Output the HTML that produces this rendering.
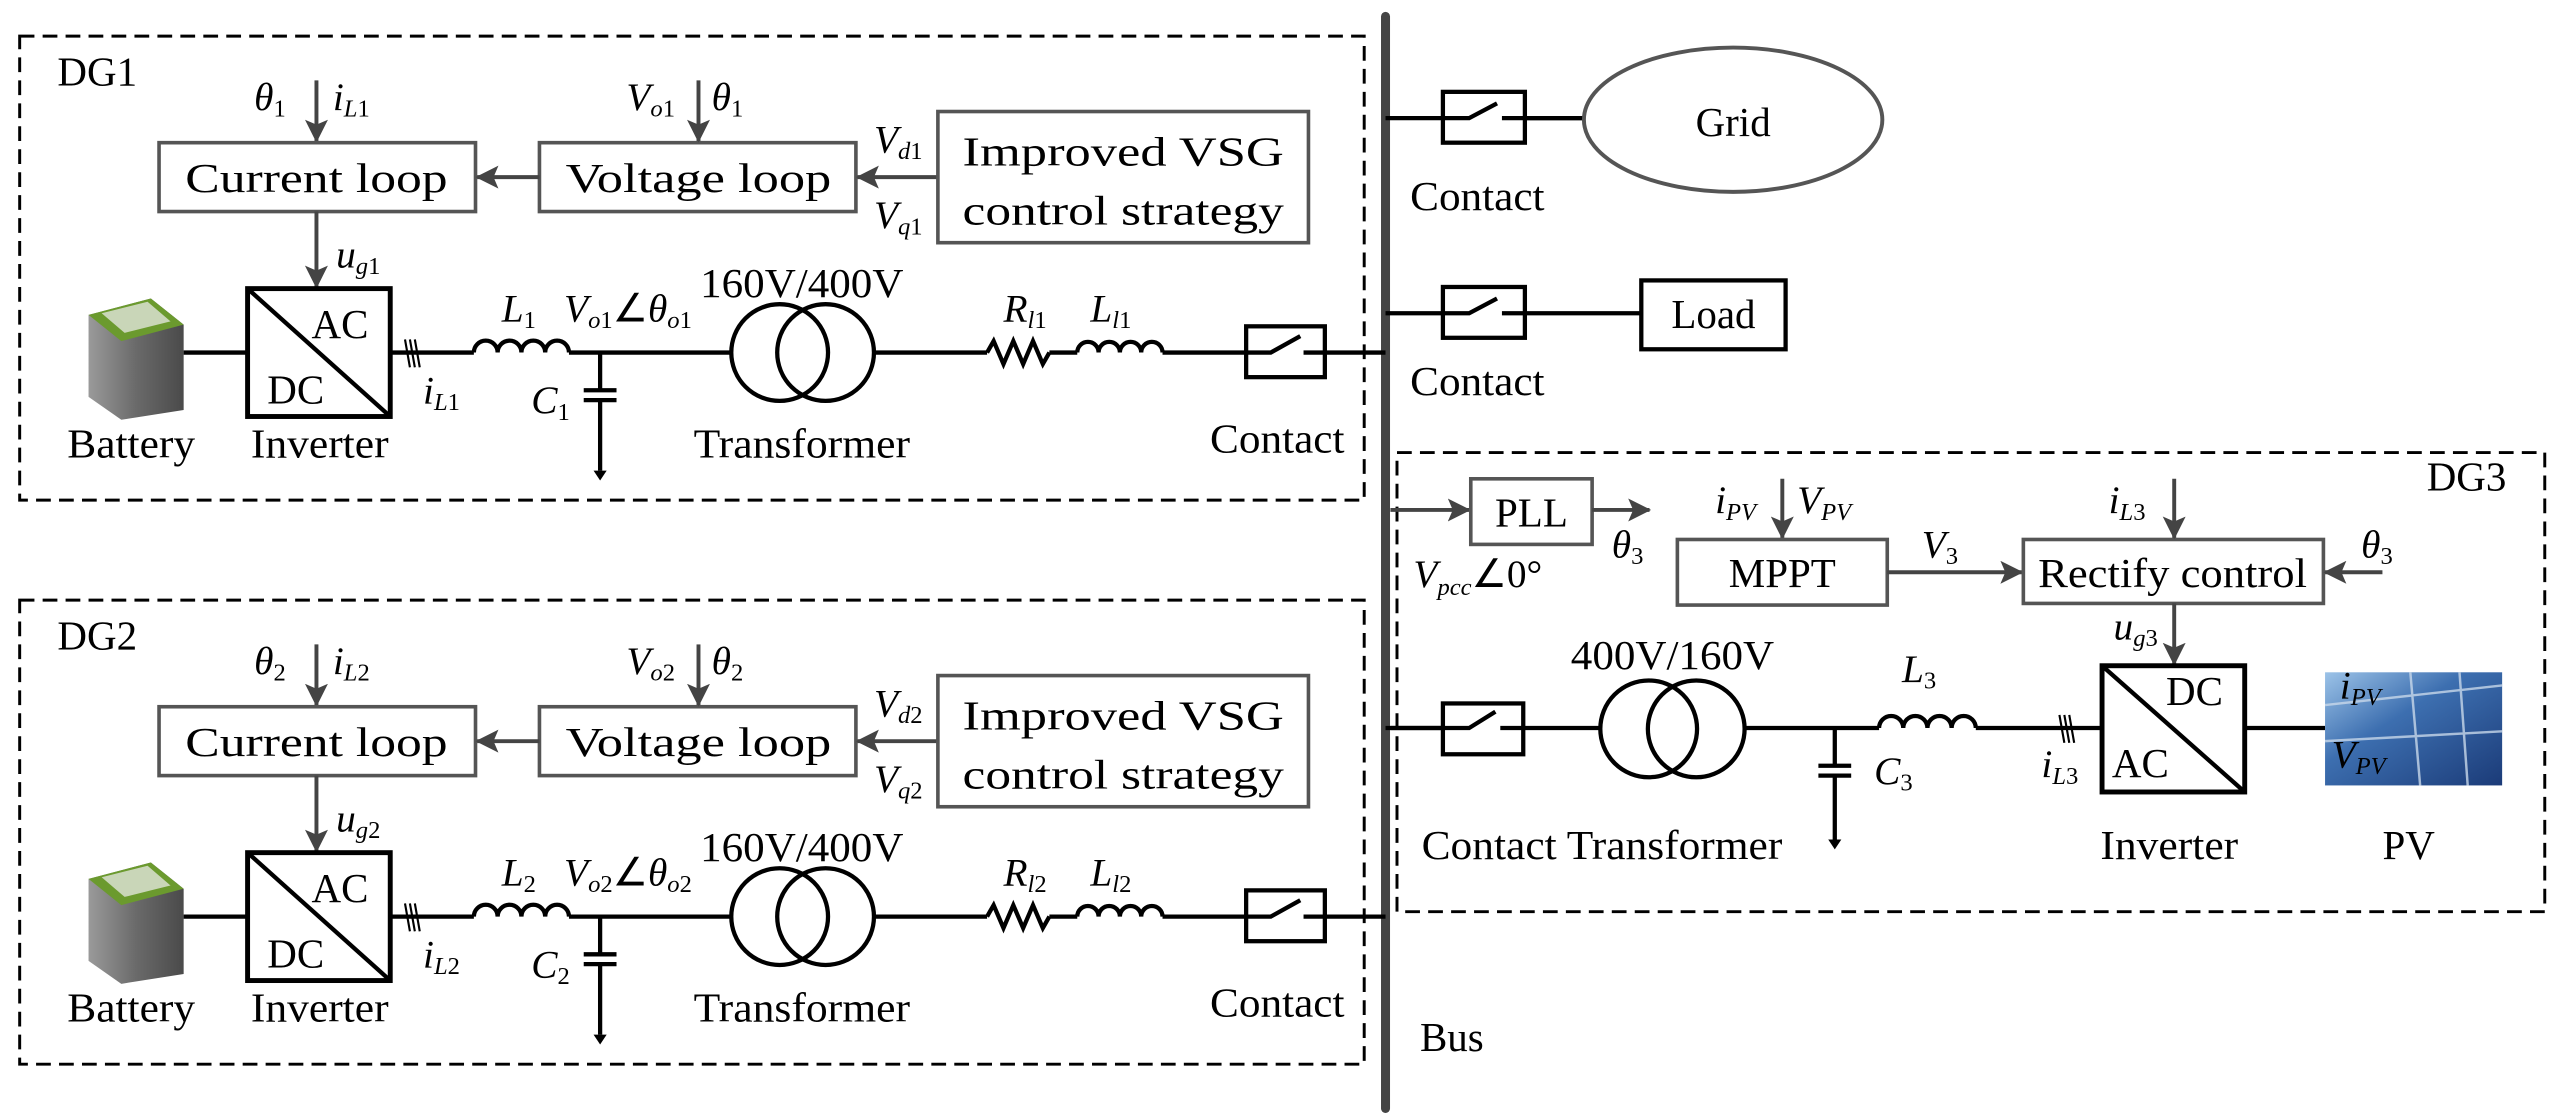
<!DOCTYPE html>
<html><head><meta charset="utf-8"><style>
html,body{margin:0;padding:0;background:#fff;}
svg{display:block;}
text{font-family:"Liberation Serif",serif;fill:#000;}
.t{font-size:25px;}
.m{font-size:24px;font-style:italic;}
.s{font-size:15px;}
.blk{fill:none;stroke:#555;stroke-width:2.2;}
.w{fill:none;stroke:#000;stroke-width:2.6;}
.a{stroke:#444;stroke-width:2.4;fill:none;}
.dash{fill:none;stroke:#000;stroke-width:1.8;stroke-dasharray:9,5;}
</style></head><body>
<svg width="2571" height="1117" viewBox="0 0 1568 681.2" xmlns="http://www.w3.org/2000/svg">
<defs>
<marker id="ar" markerWidth="14" markerHeight="14" refX="13" refY="7" orient="auto" markerUnits="userSpaceOnUse">
<path d="M0,0 L14,7 L0,14 L3,7 Z" fill="#444"/></marker>
<linearGradient id="pv" x1="0" y1="0" x2="1" y2="1">
<stop offset="0" stop-color="#9cc3e8"/><stop offset="0.4" stop-color="#3d6fb0"/><stop offset="1" stop-color="#1b3b78"/></linearGradient>
<linearGradient id="bat" x1="0" y1="0" x2="1" y2="0">
<stop offset="0" stop-color="#9a9a9a"/><stop offset="0.5" stop-color="#6a6a6a"/><stop offset="1" stop-color="#4a4a4a"/></linearGradient>
</defs>

<line x1="845" y1="10" x2="845" y2="676" stroke="#444" stroke-width="5.5" stroke-linecap="round"/>
<text class="t" x="866" y="641">Bus</text>

<line class="w" x1="845" y1="72" x2="966" y2="72"/>
<rect x="880" y="56" width="50" height="31" fill="#fff" stroke="#000" stroke-width="2.6"/>
<path class="w" d="M880 72 H896 L913 63 M916 72 H930"/>
<line class="w" x1="930" y1="72" x2="966" y2="72"/>
<ellipse cx="1057" cy="73" rx="91" ry="44" fill="none" stroke="#555" stroke-width="2.4"/>
<text class="t" x="1057" y="83" text-anchor="middle" font-size="28">Grid</text>
<text class="t" x="901" y="128" text-anchor="middle" textLength="82" lengthAdjust="spacingAndGlyphs">Contact</text>
<line class="w" x1="845" y1="191" x2="1001" y2="191"/>
<rect x="880" y="175" width="50" height="31" fill="#fff" stroke="#000" stroke-width="2.6"/>
<path class="w" d="M880 191 H896 L913 182 M916 191 H930"/>
<rect x="1001" y="171" width="88" height="42" fill="none" stroke="#000" stroke-width="2.6"/>
<text class="t" x="1045" y="200" text-anchor="middle">Load</text>
<text class="t" x="901" y="241" text-anchor="middle" textLength="82" lengthAdjust="spacingAndGlyphs">Contact</text>

<g id="dg1">
<rect class="dash" x="12" y="22" width="820" height="283"/>
<line class="a" x1="193" y1="49" x2="193" y2="86" marker-end="url(#ar)"/>
<rect class="blk" x="97" y="87" width="193" height="42"/>
<text class="t" x="193" y="117" text-anchor="middle" textLength="160" lengthAdjust="spacingAndGlyphs">Current loop</text>
<rect class="blk" x="329" y="87" width="193" height="42"/>
<text class="t" x="426" y="117" text-anchor="middle" textLength="162" lengthAdjust="spacingAndGlyphs">Voltage loop</text>
<line class="a" x1="329" y1="108" x2="291" y2="108" marker-end="url(#ar)"/>
<line class="a" x1="572" y1="108" x2="523" y2="108" marker-end="url(#ar)"/>
<line class="a" x1="426" y1="49" x2="426" y2="86" marker-end="url(#ar)"/>
<rect class="blk" x="572" y="68" width="226" height="80"/>
<text class="t" x="685" y="101" text-anchor="middle" textLength="196" lengthAdjust="spacingAndGlyphs">Improved VSG</text>
<text class="t" x="685" y="137" text-anchor="middle" textLength="196" lengthAdjust="spacingAndGlyphs">control strategy</text>
<line class="a" x1="193" y1="129" x2="193" y2="175" marker-end="url(#ar)"/>
<rect x="151" y="176" width="87" height="78" fill="none" stroke="#000" stroke-width="3"/>
<line x1="151" y1="176" x2="238" y2="254" stroke="#000" stroke-width="2.6"/>
<text class="t" x="190" y="206">AC</text>
<text class="t" x="163" y="246">DC</text>
<polygon points="54,192 92,182 112,198 112,250 74,256 54,242" fill="url(#bat)"/>
<polygon points="54,192 92,182 112,198 74,208" fill="#6b9a2e"/>
<polygon points="62,191 90,184 104,196 76,203" fill="#c9d6b8"/>
<line class="w" x1="112" y1="215" x2="151" y2="215"/>
<line class="w" x1="238" y1="215" x2="289" y2="215"/>
<path d="M247 207 L250 224 M250 207 L253 224 M253 207 L256 224" stroke="#000" stroke-width="1.3"/>
<path class="w" d="M289 215 a7.25 7.25 0 0 1 14.5 0 a7.25 7.25 0 0 1 14.5 0 a7.25 7.25 0 0 1 14.5 0 a7.25 7.25 0 0 1 14.5 0"/>
<line class="w" x1="347" y1="215" x2="446" y2="215"/>
<path class="w" d="M366 215 V238 M356 238 H376 M356 244 H376 M366 244 V287"/>
<path d="M362 287 H370 L366 293 Z" fill="#000"/>
<circle class="w" cx="475.5" cy="215" r="29.5"/>
<circle class="w" cx="503.5" cy="215" r="29.5"/>
<line class="w" x1="533" y1="215" x2="602" y2="215"/>
<path class="w" d="M602 215 L606 208 L612 222 L618 208 L624 222 L630 208 L636 222 L640 215"/>
<line class="w" x1="640" y1="215" x2="657" y2="215"/>
<path class="w" d="M657 215 a6.5 6.5 0 0 1 13 0 a6.5 6.5 0 0 1 13 0 a6.5 6.5 0 0 1 13 0 a6.5 6.5 0 0 1 13 0"/>
<line class="w" x1="709" y1="215" x2="760" y2="215"/>
<rect x="760" y="199" width="48" height="31" fill="#fff" stroke="#000" stroke-width="2.6"/>
<path class="w" d="M760 215 H775 L793 205 M795 215 H845"/>
</g>
<text class="t" x="35" y="52">DG1</text>
<text class="m" x="155" y="67">θ<tspan class="s" dy="4" font-style="normal">1</tspan></text>
<text class="m" x="203" y="67">i<tspan class="s" dy="4">L</tspan><tspan class="s" font-style="normal">1</tspan></text>
<text class="m" x="382" y="67">V<tspan class="s" dy="4">o</tspan><tspan class="s" font-style="normal">1</tspan></text>
<text class="m" x="434" y="67">θ<tspan class="s" dy="4" font-style="normal">1</tspan></text>
<text class="m" x="533" y="93">V<tspan class="s" dy="4">d</tspan><tspan class="s" font-style="normal">1</tspan></text>
<text class="m" x="533" y="139">V<tspan class="s" dy="4">q</tspan><tspan class="s" font-style="normal">1</tspan></text>
<text class="m" x="205" y="163">u<tspan class="s" dy="4">g</tspan><tspan class="s" font-style="normal">1</tspan></text>
<text class="m" x="306" y="196">L<tspan class="s" dy="4" font-style="normal">1</tspan></text>
<text class="m" x="344" y="196">V<tspan class="s" dy="4">o</tspan><tspan class="s" font-style="normal">1</tspan><tspan dy="-4" font-style="normal">∠</tspan>θ<tspan class="s" dy="4">o</tspan><tspan class="s" font-style="normal">1</tspan></text>
<text class="t" x="489" y="181" text-anchor="middle" textLength="124" lengthAdjust="spacingAndGlyphs">160V/400V</text>
<text class="m" x="612" y="196">R<tspan class="s" dy="4">l</tspan><tspan class="s" font-style="normal">1</tspan></text>
<text class="m" x="665" y="196">L<tspan class="s" dy="4">l</tspan><tspan class="s" font-style="normal">1</tspan></text>
<text class="m" x="258" y="246">i<tspan class="s" dy="4">L</tspan><tspan class="s" font-style="normal">1</tspan></text>
<text class="m" x="324" y="252">C<tspan class="s" dy="4" font-style="normal">1</tspan></text>
<text class="t" x="80" y="279" text-anchor="middle" textLength="78" lengthAdjust="spacingAndGlyphs">Battery</text>
<text class="t" x="195" y="279" text-anchor="middle" textLength="84" lengthAdjust="spacingAndGlyphs">Inverter</text>
<text class="t" x="489" y="279" text-anchor="middle" textLength="132" lengthAdjust="spacingAndGlyphs">Transformer</text>
<text class="t" x="779" y="276" text-anchor="middle" textLength="82" lengthAdjust="spacingAndGlyphs">Contact</text>

<use href="#dg1" transform="translate(0,344)"/>
<g transform="translate(0,344)">
<text class="t" x="35" y="52">DG2</text>
<text class="m" x="155" y="67">θ<tspan class="s" dy="4" font-style="normal">2</tspan></text>
<text class="m" x="203" y="67">i<tspan class="s" dy="4">L</tspan><tspan class="s" font-style="normal">2</tspan></text>
<text class="m" x="382" y="67">V<tspan class="s" dy="4">o</tspan><tspan class="s" font-style="normal">2</tspan></text>
<text class="m" x="434" y="67">θ<tspan class="s" dy="4" font-style="normal">2</tspan></text>
<text class="m" x="533" y="93">V<tspan class="s" dy="4">d</tspan><tspan class="s" font-style="normal">2</tspan></text>
<text class="m" x="533" y="139">V<tspan class="s" dy="4">q</tspan><tspan class="s" font-style="normal">2</tspan></text>
<text class="m" x="205" y="163">u<tspan class="s" dy="4">g</tspan><tspan class="s" font-style="normal">2</tspan></text>
<text class="m" x="306" y="196">L<tspan class="s" dy="4" font-style="normal">2</tspan></text>
<text class="m" x="344" y="196">V<tspan class="s" dy="4">o</tspan><tspan class="s" font-style="normal">2</tspan><tspan dy="-4" font-style="normal">∠</tspan>θ<tspan class="s" dy="4">o</tspan><tspan class="s" font-style="normal">2</tspan></text>
<text class="t" x="489" y="181" text-anchor="middle" textLength="124" lengthAdjust="spacingAndGlyphs">160V/400V</text>
<text class="m" x="612" y="196">R<tspan class="s" dy="4">l</tspan><tspan class="s" font-style="normal">2</tspan></text>
<text class="m" x="665" y="196">L<tspan class="s" dy="4">l</tspan><tspan class="s" font-style="normal">2</tspan></text>
<text class="m" x="258" y="246">i<tspan class="s" dy="4">L</tspan><tspan class="s" font-style="normal">2</tspan></text>
<text class="m" x="324" y="252">C<tspan class="s" dy="4" font-style="normal">2</tspan></text>
<text class="t" x="80" y="279" text-anchor="middle" textLength="78" lengthAdjust="spacingAndGlyphs">Battery</text>
<text class="t" x="195" y="279" text-anchor="middle" textLength="84" lengthAdjust="spacingAndGlyphs">Inverter</text>
<text class="t" x="489" y="279" text-anchor="middle" textLength="132" lengthAdjust="spacingAndGlyphs">Transformer</text>
<text class="t" x="779" y="276" text-anchor="middle" textLength="82" lengthAdjust="spacingAndGlyphs">Contact</text>
</g>

<rect class="dash" x="852" y="276" width="700" height="280"/>
<text class="t" x="1480" y="299">DG3</text>
<line class="a" x1="848" y1="311" x2="896" y2="311" marker-end="url(#ar)"/>
<rect class="blk" x="897" y="292" width="74" height="40"/>
<text class="t" x="934" y="321" text-anchor="middle">PLL</text>
<line class="a" x1="971" y1="311" x2="1006" y2="311" marker-end="url(#ar)"/>
<text class="m" x="983" y="340">θ<tspan class="s" dy="4" font-style="normal">3</tspan></text>
<text class="m" x="862" y="358">V<tspan class="s" dy="5">pcc</tspan><tspan dy="-5" font-style="normal">∠0°</tspan></text>
<line class="a" x1="1087" y1="292" x2="1087" y2="328" marker-end="url(#ar)"/>
<text class="m" x="1046" y="313">i<tspan class="s" dy="4">PV</tspan></text>
<text class="m" x="1096" y="313">V<tspan class="s" dy="4">PV</tspan></text>
<rect class="blk" x="1023" y="329" width="128" height="40"/>
<text class="t" x="1087" y="358" text-anchor="middle">MPPT</text>
<line class="a" x1="1151" y1="349" x2="1233" y2="349" marker-end="url(#ar)"/>
<text class="m" x="1172" y="340">V<tspan class="s" dy="4" font-style="normal">3</tspan></text>
<rect class="blk" x="1234" y="329" width="183" height="39"/>
<text class="t" x="1325" y="358" text-anchor="middle" textLength="164" lengthAdjust="spacingAndGlyphs">Rectify control</text>
<line class="a" x1="1326" y1="292" x2="1326" y2="328" marker-end="url(#ar)"/>
<text class="m" x="1286" y="313">i<tspan class="s" dy="4">L</tspan><tspan class="s" font-style="normal">3</tspan></text>
<line class="a" x1="1453" y1="349" x2="1418" y2="349" marker-end="url(#ar)"/>
<text class="m" x="1440" y="340">θ<tspan class="s" dy="4" font-style="normal">3</tspan></text>
<line class="a" x1="1326" y1="368" x2="1326" y2="405" marker-end="url(#ar)"/>
<text class="m" x="1289" y="390">u<tspan class="s" dy="4">g</tspan><tspan class="s" font-style="normal">3</tspan></text>

<line class="w" x1="845" y1="444" x2="880" y2="444"/>
<rect x="880" y="429" width="49" height="31" fill="#fff" stroke="#000" stroke-width="2.6"/>
<path class="w" d="M848 444 H896 L912 434 M915 444 H976"/>
<circle class="w" cx="1005.5" cy="444.5" r="29.5"/>
<circle class="w" cx="1034.5" cy="444.5" r="29.5"/>
<line class="w" x1="1064" y1="444" x2="1146" y2="444"/>
<path class="w" d="M1119 444 V467 M1109 467 H1129 M1109 473 H1129 M1119 473 V512"/>
<path d="M1115 512 H1123 L1119 518 Z" fill="#000"/>
<path class="w" d="M1146 444 a7.375 7.375 0 0 1 14.75 0 a7.375 7.375 0 0 1 14.75 0 a7.375 7.375 0 0 1 14.75 0 a7.375 7.375 0 0 1 14.75 0"/>
<line class="w" x1="1205" y1="444" x2="1282" y2="444"/>
<path d="M1256 436 L1259 453 M1259 436 L1262 453 M1262 436 L1265 453" stroke="#000" stroke-width="1.3"/>
<rect x="1282" y="406" width="87" height="77" fill="none" stroke="#000" stroke-width="3"/>
<line x1="1282" y1="406" x2="1369" y2="483" stroke="#000" stroke-width="2.6"/>
<text class="t" x="1321" y="430">DC</text>
<text class="t" x="1288" y="474">AC</text>
<line class="w" x1="1369" y1="444" x2="1418" y2="444"/>
<rect x="1418" y="410" width="108" height="69" fill="url(#pv)"/>
<path d="M1418 430 L1526 418 M1418 452 L1526 446 M1470 410 L1476 479 M1500 410 L1505 479" stroke="#c8d8ea" stroke-width="1.5" opacity="0.8"/>
<text class="m" x="1427" y="426">i<tspan class="s" dy="4">PV</tspan></text>
<text class="m" x="1422" y="468">V<tspan class="s" dy="4">PV</tspan></text>
<text class="t" x="1020" y="408" text-anchor="middle" textLength="124" lengthAdjust="spacingAndGlyphs">400V/160V</text>
<text class="m" x="1160" y="416">L<tspan class="s" dy="4" font-style="normal">3</tspan></text>
<text class="m" x="1143" y="478">C<tspan class="s" dy="4" font-style="normal">3</tspan></text>
<text class="m" x="1245" y="474">i<tspan class="s" dy="4">L</tspan><tspan class="s" font-style="normal">3</tspan></text>
<text class="t" x="867" y="524" textLength="220" lengthAdjust="spacingAndGlyphs">Contact Transformer</text>
<text class="t" x="1323" y="524" text-anchor="middle" textLength="84" lengthAdjust="spacingAndGlyphs">Inverter</text>
<text class="t" x="1469" y="524" text-anchor="middle">PV</text>
</svg>
</body></html>
